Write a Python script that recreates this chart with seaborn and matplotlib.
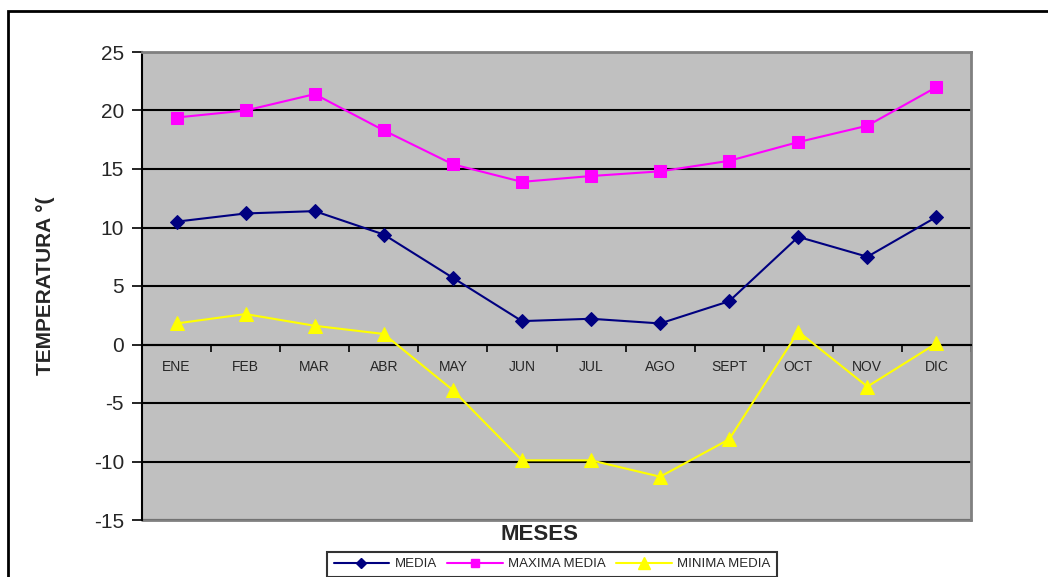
import pandas as pd
import matplotlib.pyplot as plt
import seaborn as sns
from matplotlib.patches import Rectangle
from matplotlib.lines import Line2D

meses = ["ENE", "FEB", "MAR", "ABR", "MAY", "JUN", "JUL", "AGO", "SEPT", "OCT", "NOV", "DIC"]
media = [10.5, 11.2, 11.4, 9.4, 5.7, 2.0, 2.2, 1.8, 3.7, 9.2, 7.5, 10.9]
maxima_media = [19.4, 20.0, 21.4, 18.3, 15.4, 13.9, 14.4, 14.8, 15.7, 17.3, 18.7, 22.0]
minima_media = [1.8, 2.6, 1.6, 0.9, -3.9, -9.9, -9.9, -11.3, -8.1, 1.1, -3.6, 0.1]

series = [
    ("MEDIA", media, "#000080", "D", 7),
    ("MAXIMA MEDIA", maxima_media, "#FF00FF", "s", 8),
    ("MINIMA MEDIA", minima_media, "#FFFF00", "^", 10),
]

sns.set_style("white")
plt.rcParams["font.family"] = ["Liberation Sans", "DejaVu Sans"]
plt.rcParams["axes.unicode_minus"] = False

fig = plt.figure(figsize=(10.48, 5.77), dpi=100)
ax = fig.add_axes([142 / 1048, 1 - 520 / 577, (971 - 142) / 1048, (520 - 52) / 577])
ax.set_facecolor("#C0C0C0")

# outer chart frame (right and bottom edges fall outside the picture)
fig.patches.append(Rectangle((8 / 1048, -0.1), 1.2, 1 - 11 / 577 + 0.1,
                             transform=fig.transFigure, fill=False,
                             edgecolor="black", linewidth=2, zorder=0))

for name, vals, col, mk, ms in series:
    df = pd.DataFrame({"mes": meses, "temp": vals})
    sns.lineplot(data=df, x="mes", y="temp", ax=ax, color=col, marker=mk,
                 markersize=ms, markeredgecolor=col, linewidth=1.5,
                 sort=False, zorder=3)

ax.set_xlim(-0.5, len(meses) - 0.5)
ax.set_ylim(-15, 25)
ax.set_yticks(range(-15, 26, 5))
ax.yaxis.grid(True, color="black", linewidth=1.5)
ax.set_axisbelow(True)

# category axis crosses at 0
ax.spines["bottom"].set_position(("data", 0))
ax.spines["bottom"].set_color("black")
ax.spines["bottom"].set_linewidth(1.5)
ax.spines["left"].set_color("black")
ax.spines["left"].set_linewidth(1.5)
for s in ["top", "right"]:
    ax.spines[s].set_color("#808080")
    ax.spines[s].set_linewidth(2)
ax.set_xticks(range(len(meses)))
ax.set_xticklabels(meses, fontsize=10)
ax.set_xticks([i + 0.5 for i in range(len(meses))], minor=True)
ax.tick_params(axis="x", which="major", length=0, pad=11)
ax.tick_params(axis="x", which="minor", length=5, width=1.2, direction="out", color="black")
ax.tick_params(axis="y", length=7, width=1.2, direction="out", color="black", labelsize=15, pad=6)
ax.yaxis.set_ticks_position("left")
ax.xaxis.set_ticks_position("bottom")

ax.set_xlabel("")
ax.set_ylabel("TEMPERATURA °(", fontsize=15, fontweight="bold", labelpad=28)
fig.text(540 / 1048, 1 - 535 / 577, "MESES", ha="center", va="center",
         fontsize=16, fontweight="bold")

# bottom edge of the plot area
ax.plot([0, 1], [0, 0], transform=ax.transAxes, color="#808080", linewidth=2, clip_on=False)

handles = [Line2D([], [], color=col, marker=mk, markersize=ms * 0.8, markeredgecolor=col,
                  linewidth=1.5, label=name) for name, vals, col, mk, ms in series]
leg = fig.legend(handles=handles, loc="upper center", bbox_to_anchor=(552 / 1048, 1 - 545 / 577),
                 ncol=3, frameon=True, fancybox=False, edgecolor="black", fontsize=9.5,
                 handlelength=4.2, columnspacing=0.8, borderpad=0.5, handletextpad=0.4)
leg.get_frame().set_linewidth(1.5)

fig.savefig("out.png", dpi=100)
